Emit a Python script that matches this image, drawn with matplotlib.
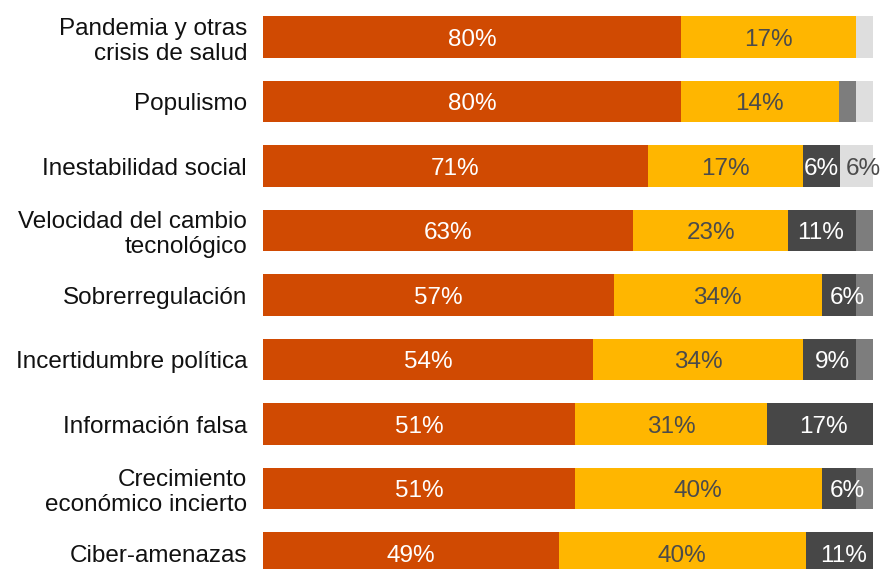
import numpy as np
import matplotlib.pyplot as plt

plt.rcParams["font.family"] = ["Liberation Sans", "DejaVu Sans"]

categories = ["Pandemia y otras\ncrisis de salud", "Populismo", "Inestabilidad social",
              "Velocidad del cambio\ntecnológico", "Sobrerregulación",
              "Incertidumbre política", "Información falsa",
              "Crecimiento\neconómico incierto", "Ciber-amenazas"]

# segment widths as drawn in the picture (share of the full bar)
orange = [68.5, 68.5, 63.1, 60.7, 57.5, 54.1, 51.1, 51.1, 48.5]
yellow = [28.7, 25.9, 25.4, 25.4, 34.1, 34.4, 31.6, 40.5, 40.5]
dark = [0, 0, 6.1, 11.1, 5.6, 8.7, 17.3, 5.6, 11.0]
mid = [0, 2.8, 0, 2.8, 2.8, 2.8, 0, 2.8, 0]
light = [2.8, 2.8, 5.4, 0, 0, 0, 0, 0, 0]

# printed labels
orange_lbl = ["80%", "80%", "71%", "63%", "57%", "54%", "51%", "51%", "49%"]
yellow_lbl = ["17%", "14%", "17%", "23%", "34%", "34%", "31%", "40%", "40%"]
dark_lbl = ["", "", "6%", "11%", "6%", "9%", "17%", "6%", "11%"]
mid_lbl = ["", "", "", "", "", "", "", "", ""]
light_lbl = ["", "", "6%", "", "", "", "", "", ""]

# small horizontal nudges of the labels (pixels), as in the original
no_nudge = [0] * 9
dark_nudge = [0, 0, 0, -2, 8, 3.5, 3.5, 8, 4.5]
light_nudge = [0, 0, 7, 0, 0, 0, 0, 0, 0]

series = [
    (orange, orange_lbl, no_nudge, "#D04A02", "white"),
    (yellow, yellow_lbl, no_nudge, "#FFB600", "#4B4B4B"),
    (dark, dark_lbl, dark_nudge, "#474747", "white"),
    (mid, mid_lbl, no_nudge, "#7D7D7D", "white"),
    (light, light_lbl, light_nudge, "#DEDEDE", "#4B4B4B"),
]

FS = 17.5

fig = plt.figure(figsize=(8.84, 5.69), dpi=100)
ax = fig.add_axes((263 / 884, 0, 610 / 884, 1))

y = np.arange(len(categories))
left = np.zeros(len(categories))
for vals, lbls, nudge, color, tcolor in series:
    vals = np.array(vals, dtype=float)
    ax.barh(y, vals, left=left, height=0.65, color=color, linewidth=0)
    for i, (v, t) in enumerate(zip(vals, lbls)):
        if t and v > 0:
            ax.annotate(t, (left[i] + v / 2, y[i]), xytext=(nudge[i] * 0.72, -6.3),
                        textcoords="offset points", ha="center", va="baseline",
                        color=tcolor, fontsize=FS)
    left += vals

ax.set_xlim(0, 100)
ax.set_ylim(8.248, -0.574)
ax.set_yticks(y)
ax.set_yticklabels(categories, fontsize=FS, linespacing=1.2, color="#111111")
ax.tick_params(axis="y", length=0, pad=11.5)
ax.set_xticks([])
for s in ax.spines.values():
    s.set_visible(False)

fig.savefig("out.png", dpi=100)
